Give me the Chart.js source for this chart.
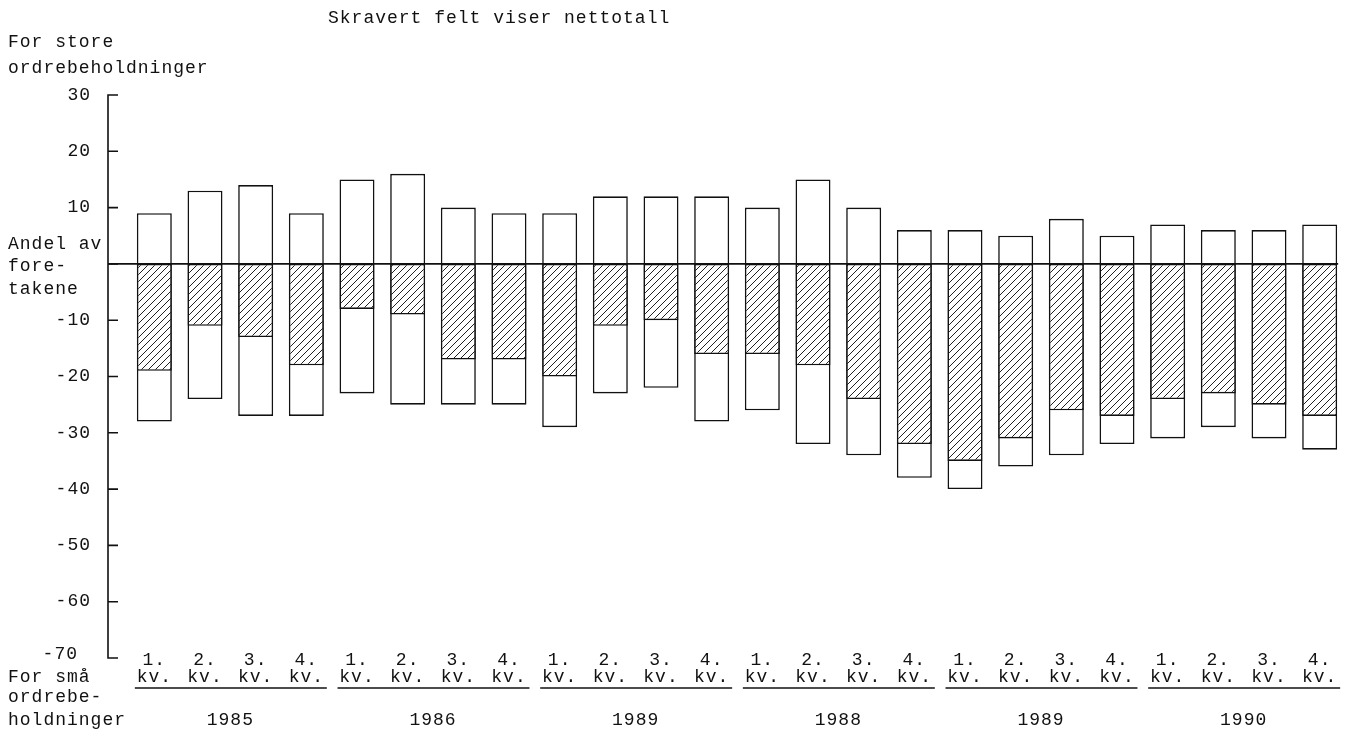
<!DOCTYPE html>
<html>
<head>
<meta charset="utf-8">
<script src="https://cdn.jsdelivr.net/npm/chart.js@4"></script>
<style>
    html, body { margin: 0; padding: 0; background: #fff; }
    #wrap { width: 1354px; height: 735px; position: relative; }
</style>
</head>
<body>
<div id="wrap"><canvas id="chart"></canvas></div>
<script>
// Data (prosent av foretakene)
const quarters = ['1.', '2.', '3.', '4.'];
const years = ['1985', '1986', '1989', '1988', '1989', '1990'];
const storeValues = [9, 13, 14, 9, 15, 16, 10, 9, 9, 12, 12, 12, 10, 15, 10, 6, 6, 5, 8, 5, 7, 6, 6, 7];
const smaaValues = [-28, -24, -27, -27, -23, -25, -25, -25, -29, -23, -22, -28, -26, -32, -34, -38, -40, -36, -34, -32, -31, -29, -31, -33];
const nettoValues = [-19, -11, -13, -18, -8, -9, -17, -17, -20, -11, -10, -16, -16, -18, -24, -32, -35, -31, -26, -27, -24, -23, -25, -27];
const yTicks = [30, 20, 10, 0, -10, -20, -30, -40, -50, -60, -70];

const labels = [];
years.forEach(y => quarters.forEach(q => labels.push(q + ' kv. ' + y)));

const FONT = '18px "Liberation Mono", "DejaVu Sans Mono", monospace';
const INK = '#111';

// Hatch pattern for the net field
function makeHatch() {
    const size = 7;
    const c = document.createElement('canvas');
    c.width = size; c.height = size;
    const g = c.getContext('2d');
    g.fillStyle = '#fff';
    g.fillRect(0, 0, size, size);
    g.strokeStyle = '#222';
    g.lineWidth = 1;
    g.beginPath();
    g.moveTo(-1, size + 1); g.lineTo(size + 1, -1);
    g.moveTo(-1, 1); g.lineTo(1, -1);
    g.moveTo(size - 1, size + 1); g.lineTo(size + 1, size - 1);
    g.stroke();
    return g.createPattern(c, 'repeat');
}

function text(ctx, str, x, y, align) {
    ctx.textAlign = align || 'left';
    ctx.fillText(str, x, y);
}

const decorations = {
    id: 'decorations',
    afterDatasetsDraw(chart) {
        const ctx = chart.ctx;
        const area = chart.chartArea;
        const xs = chart.scales.x;
        const ys = chart.scales.y;
        const axisX = area.left - 21;
        const half = xs.getPixelForValue(1) - xs.getPixelForValue(0);
        const barW = half * 0.69;

        ctx.save();
        ctx.strokeStyle = INK;
        ctx.fillStyle = INK;
        ctx.lineWidth = 1.6;

        // y axis with inward ticks
        ctx.beginPath();
        ctx.moveTo(axisX + 10, ys.getPixelForValue(30));
        ctx.lineTo(axisX, ys.getPixelForValue(30));
        ctx.lineTo(axisX, ys.getPixelForValue(-70));
        ctx.lineTo(axisX + 10, ys.getPixelForValue(-70));
        yTicks.forEach(v => {
            const py = ys.getPixelForValue(v);
            ctx.moveTo(axisX, py);
            ctx.lineTo(axisX + 10, py);
        });
        ctx.stroke();

        // zero line
        const lastRight = xs.getPixelForValue(labels.length - 1) + barW / 2 + 1;
        ctx.beginPath();
        ctx.moveTo(axisX, ys.getPixelForValue(0));
        ctx.lineTo(lastRight, ys.getPixelForValue(0));
        ctx.stroke();

        ctx.font = FONT;
        ctx.letterSpacing = '1px';
        ctx.textBaseline = 'middle';

        // y tick labels
        yTicks.forEach(v => {
            if (v === 0) return;
            const py = ys.getPixelForValue(v);
            if (v === -70) text(ctx, String(v), 78, py - 4, 'right');
            else text(ctx, String(v), 91, py, 'right');
        });

        // left column texts
        text(ctx, 'Skravert felt viser nettotall', 328, 18);
        text(ctx, 'For store', 8, 42);
        text(ctx, 'ordrebeholdninger', 8, 68);
        text(ctx, 'Andel av', 8, 244);
        text(ctx, 'fore-', 8, 266);
        text(ctx, 'takene', 8, 289);
        text(ctx, 'For små', 8, 677);
        text(ctx, 'ordrebe-', 8, 697);
        text(ctx, 'holdninger', 8, 720);

        // quarter labels, underlines and years
        labels.forEach((l, i) => {
            const px = xs.getPixelForValue(i);
            text(ctx, quarters[i % 4], px, 660, 'center');
            text(ctx, 'kv.', px, 677, 'center');
        });
        years.forEach((y, g) => {
            const first = xs.getPixelForValue(g * 4);
            const last = xs.getPixelForValue(g * 4 + 3);
            ctx.beginPath();
            ctx.lineWidth = 1.4;
            ctx.moveTo(first - barW / 2 - 2, 688);
            ctx.lineTo(last + barW / 2 + 3, 688);
            ctx.stroke();
            text(ctx, y, (first + last) / 2, 720, 'center');
        });
        ctx.restore();
    }
};

new Chart(document.getElementById('chart'), {
    type: 'bar',
    data: {
        labels: labels,
        datasets: [
            {
                label: 'Nettotall',
                data: nettoValues.map(v => [v, 0]),
                backgroundColor: makeHatch(),
                borderColor: INK,
                borderWidth: 1.6,
                borderSkipped: false,
                grouped: false,
                order: 0,
                barPercentage: 0.69,
                categoryPercentage: 1
            },
            {
                label: 'Store / små ordrebeholdninger',
                data: storeValues.map((v, i) => [smaaValues[i], v]),
                backgroundColor: '#fff',
                borderColor: INK,
                borderWidth: 1.6,
                borderSkipped: false,
                grouped: false,
                order: 1,
                barPercentage: 0.69,
                categoryPercentage: 1
            }
        ]
    },
    options: {
        responsive: true,
        maintainAspectRatio: false,
        animation: false,
        layout: { padding: { left: 129, right: 9, top: 95, bottom: 77 } },
        plugins: {
            legend: { display: false },
            tooltip: { enabled: false }
        },
        scales: {
            x: { display: false, offset: true },
            y: { display: false, min: -70, max: 30 }
        }
    },
    plugins: [decorations]
});
</script>
</body>
</html>
